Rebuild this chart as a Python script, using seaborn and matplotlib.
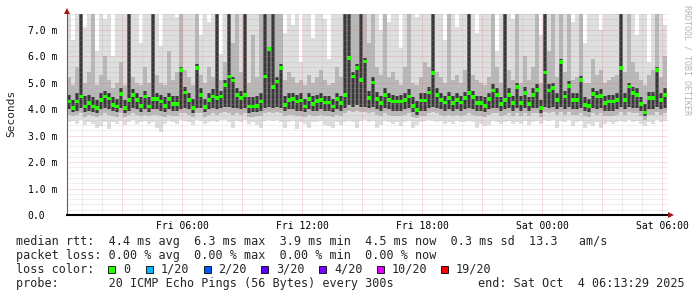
import numpy as np
import pandas as pd
import matplotlib
matplotlib.use("Agg")
import matplotlib.pyplot as plt
import matplotlib.dates as mdates
from matplotlib.ticker import MultipleLocator, FuncFormatter
from matplotlib.patches import Polygon, Rectangle
import seaborn as sns

# ---------------- data ----------------
START = "2025-10-03 00:15"   # left edge of the plot (Fri 00:15)
STEP_MIN = 12                # one column = 12 minutes
N_COLS = 150

# median RTT (ms) per column
median = [
    4.29, 4.05, 4.29, 4.48, 4.10, 4.23, 4.10, 4.04, 4.36, 4.48,
    4.40, 4.17, 4.10, 4.57, 4.04, 4.36, 4.55, 4.36, 4.13, 4.48,
    4.10, 4.38, 4.38, 4.29, 4.13, 4.38, 4.20, 4.20, 5.49, 4.63,
    4.36, 4.04, 5.56, 4.55, 4.08, 4.36, 4.48, 4.42, 4.48, 4.92,
    5.24, 5.09, 4.55, 4.42, 4.55, 4.10, 4.10, 4.13, 4.29, 5.24,
    6.28, 4.84, 5.05, 5.57, 4.17, 4.36, 4.38, 4.29, 4.33, 4.10,
    4.38, 4.20, 4.32, 4.36, 4.25, 4.25, 4.10, 4.38, 4.23, 4.55,
    5.93, 5.24, 5.56, 5.11, 5.81, 4.42, 5.01, 4.38, 4.23, 4.55,
    4.36, 4.29, 4.29, 4.29, 4.36, 4.48, 4.13, 3.98, 4.33, 4.33,
    4.63, 5.37, 4.55, 4.36, 4.25, 4.42, 4.23, 4.36, 4.25, 4.42,
    4.61, 4.46, 4.23, 4.23, 4.13, 4.38, 4.71, 4.55, 4.20, 4.36,
    4.55, 4.23, 4.84, 4.23, 4.61, 4.20, 4.55, 4.73, 4.04, 5.39,
    4.71, 4.80, 4.36, 5.78, 4.48, 4.89, 4.36, 4.36, 5.11, 4.17,
    4.13, 4.58, 4.48, 4.51, 4.23, 4.29, 4.29, 4.36, 5.56, 4.36,
    4.86, 4.61, 4.55, 4.20, 3.88, 4.42, 4.42, 5.47, 4.36, 4.55,
]

# highest ping (light smoke top, values above 7.6 run off the chart)
smoke_hi = [
    8.0, 6.6, 8.0, 8.0, 7.1, 8.0, 8.0, 6.2, 8.0, 7.4,
    8.0, 6.0, 8.0, 8.0, 8.0, 7.0, 8.0, 8.0, 6.5, 8.0,
    8.0, 7.2, 8.0, 6.4, 8.0, 8.0, 8.0, 7.5, 8.0, 8.0,
    8.0, 8.0, 8.0, 6.8, 8.0, 7.3, 8.0, 8.0, 6.1, 8.0,
    8.0, 8.0, 8.0, 8.0, 7.0, 8.0, 8.0, 8.0, 8.0, 8.0,
    8.0, 8.0, 8.0, 8.0, 6.9, 8.0, 7.2, 8.0, 5.8, 8.0,
    8.0, 6.7, 8.0, 8.0, 7.4, 5.9, 8.0, 8.0, 8.0, 8.0,
    8.0, 8.0, 8.0, 8.0, 8.0, 8.0, 8.0, 8.0, 7.0, 8.0,
    7.3, 8.0, 8.0, 6.3, 8.0, 8.0, 8.0, 7.5, 8.0, 8.0,
    8.0, 8.0, 8.0, 8.0, 6.6, 8.0, 8.0, 7.1, 8.0, 8.0,
    8.0, 8.0, 6.9, 8.0, 8.0, 8.0, 8.0, 6.2, 8.0, 8.0,
    8.0, 7.4, 8.0, 8.0, 8.0, 8.0, 8.0, 8.0, 6.8, 8.0,
    8.0, 8.0, 8.0, 8.0, 8.0, 8.0, 7.3, 8.0, 8.0, 6.5,
    8.0, 8.0, 8.0, 7.0, 8.0, 8.0, 8.0, 8.0, 8.0, 8.0,
    8.0, 8.0, 6.8, 8.0, 8.0, 5.8, 8.0, 8.0, 8.0, 7.2,
]

# upper edge of the medium smoke
smoke_mid_hi = [
    5.2, 4.9, 5.6, 8.0, 5.0, 5.4, 8.0, 4.9, 5.3, 6.0,
    5.1, 4.8, 5.0, 5.8, 4.9, 8.0, 5.2, 5.0, 4.9, 5.6,
    5.0, 8.0, 5.3, 5.0, 4.9, 6.2, 5.1, 5.4, 8.0, 5.5,
    5.2, 4.9, 8.0, 5.3, 5.0, 5.6, 5.2, 6.4, 5.1, 5.8,
    8.0, 6.5, 8.0, 5.4, 8.0, 5.0, 6.8, 5.2, 8.0, 8.0,
    8.0, 6.0, 8.0, 8.0, 5.1, 5.4, 5.2, 5.0, 5.1, 4.9,
    5.3, 5.0, 5.2, 5.5, 5.1, 4.9, 5.0, 5.6, 5.2, 8.0,
    8.0, 8.0, 8.0, 8.0, 8.0, 6.5, 8.0, 5.6, 5.3, 8.0,
    5.2, 5.4, 5.1, 4.9, 5.6, 8.0, 5.0, 4.9, 5.2, 5.8,
    5.6, 8.0, 5.4, 5.2, 5.0, 8.0, 5.1, 5.3, 5.0, 5.5,
    8.0, 5.3, 5.1, 5.0, 4.9, 5.2, 8.0, 5.6, 5.0, 8.0,
    5.5, 5.1, 8.0, 5.0, 6.0, 5.1, 5.6, 8.0, 5.0, 8.0,
    6.2, 8.0, 5.2, 8.0, 5.4, 8.0, 5.1, 5.2, 8.0, 5.0,
    5.0, 5.9, 5.3, 5.5, 5.0, 5.1, 5.2, 5.3, 8.0, 5.4,
    8.0, 5.8, 5.4, 5.1, 4.9, 5.3, 5.5, 8.0, 5.2, 6.0,
]

# upper edge of the dark core
smoke_core_hi = [
    4.55, 4.35, 4.60, 8.00, 4.50, 4.55, 4.45, 4.35, 4.60, 4.70,
    4.60, 4.45, 4.40, 4.80, 4.35, 8.00, 4.75, 4.60, 4.45, 4.70,
    4.45, 8.00, 4.60, 4.55, 4.45, 4.60, 4.50, 4.50, 5.60, 4.85,
    4.60, 4.40, 5.70, 4.80, 4.40, 4.60, 4.75, 8.00, 4.70, 5.10,
    8.00, 5.20, 4.80, 4.70, 8.00, 4.45, 4.45, 4.50, 4.60, 8.00,
    6.35, 8.00, 5.20, 5.70, 4.50, 4.60, 4.60, 4.55, 4.60, 4.40,
    4.60, 4.50, 4.55, 4.60, 4.50, 4.50, 4.40, 4.60, 4.50, 8.00,
    8.00, 5.40, 5.70, 8.00, 5.95, 4.70, 5.20, 4.65, 4.50, 4.80,
    4.60, 4.55, 4.50, 4.55, 4.60, 4.75, 4.45, 4.30, 4.60, 4.60,
    4.85, 8.00, 4.80, 4.60, 4.50, 4.65, 4.50, 4.60, 4.50, 4.65,
    8.00, 4.70, 4.50, 4.50, 4.45, 4.60, 4.95, 4.80, 4.45, 8.00,
    4.80, 4.50, 5.00, 4.50, 4.85, 4.45, 4.80, 4.95, 4.35, 8.00,
    4.95, 5.00, 4.60, 5.90, 4.70, 5.05, 4.60, 4.60, 5.25, 4.45,
    4.40, 4.80, 4.70, 4.75, 4.50, 4.55, 4.55, 4.60, 8.00, 4.60,
    5.00, 4.85, 4.80, 4.45, 4.20, 4.65, 4.65, 5.60, 4.60, 4.80,
]

# lower edge of the dark core
smoke_core_lo = [
    4.00, 3.90, 3.95, 4.05, 3.90, 3.95, 3.90, 3.85, 4.00, 4.05,
    4.00, 3.95, 3.90, 4.05, 3.85, 3.95, 4.05, 4.00, 3.90, 4.00,
    3.90, 4.00, 4.00, 3.95, 3.90, 4.00, 3.95, 3.95, 4.00, 4.05,
    4.00, 3.85, 4.05, 4.05, 3.90, 4.00, 4.05, 4.00, 4.05, 4.10,
    4.10, 4.05, 4.05, 4.00, 4.05, 3.85, 3.90, 3.90, 3.95, 4.05,
    4.10, 4.05, 4.10, 4.05, 3.95, 4.00, 4.00, 3.95, 3.95, 3.90,
    4.00, 3.95, 3.95, 4.00, 3.95, 3.95, 3.90, 4.00, 3.95, 4.05,
    4.15, 4.10, 4.15, 4.10, 4.10, 4.05, 4.10, 4.00, 3.95, 4.05,
    4.00, 3.95, 3.95, 3.95, 4.00, 4.05, 3.90, 3.80, 3.95, 3.95,
    4.05, 4.10, 4.05, 4.00, 3.95, 4.00, 3.95, 4.00, 3.95, 4.00,
    4.05, 4.00, 3.95, 3.95, 3.90, 4.00, 4.05, 4.05, 3.95, 4.00,
    4.05, 3.95, 4.05, 3.95, 4.05, 3.95, 4.05, 4.05, 3.85, 4.10,
    4.05, 4.10, 4.00, 4.10, 4.00, 4.10, 4.00, 4.00, 4.05, 3.95,
    3.90, 4.05, 4.00, 4.05, 3.95, 3.95, 3.95, 4.00, 4.10, 4.00,
    4.10, 4.05, 4.05, 3.95, 3.75, 4.00, 4.00, 4.10, 4.00, 4.05,
]

# lower edge of the medium smoke
smoke_mid_lo = [
    3.80, 3.75, 3.80, 3.85, 3.70, 3.80, 3.75, 3.70, 3.80, 3.85,
    3.80, 3.75, 3.70, 3.85, 3.70, 3.80, 3.85, 3.80, 3.75, 3.80,
    3.75, 3.80, 3.80, 3.75, 3.70, 3.80, 3.75, 3.75, 3.85, 3.85,
    3.80, 3.70, 3.85, 3.85, 3.70, 3.80, 3.85, 3.80, 3.85, 3.90,
    3.85, 3.80, 3.85, 3.80, 3.85, 3.70, 3.70, 3.75, 3.75, 3.85,
    3.90, 3.85, 3.90, 3.85, 3.75, 3.80, 3.80, 3.75, 3.75, 3.70,
    3.80, 3.75, 3.75, 3.80, 3.75, 3.75, 3.70, 3.80, 3.75, 3.85,
    3.95, 3.90, 3.95, 3.90, 3.90, 3.85, 3.90, 3.80, 3.75, 3.85,
    3.80, 3.75, 3.75, 3.75, 3.80, 3.85, 3.70, 3.65, 3.75, 3.75,
    3.85, 3.90, 3.85, 3.80, 3.75, 3.80, 3.75, 3.80, 3.75, 3.80,
    3.85, 3.80, 3.75, 3.75, 3.70, 3.80, 3.85, 3.85, 3.75, 3.80,
    3.85, 3.75, 3.85, 3.75, 3.85, 3.75, 3.85, 3.85, 3.70, 3.90,
    3.85, 3.90, 3.80, 3.90, 3.80, 3.90, 3.80, 3.80, 3.85, 3.75,
    3.70, 3.85, 3.80, 3.85, 3.75, 3.75, 3.75, 3.80, 3.90, 3.80,
    3.90, 3.85, 3.85, 3.75, 3.60, 3.80, 3.80, 3.90, 3.80, 3.85,
]

# lowest ping (light smoke bottom)
smoke_lo = [
    3.50, 3.55, 3.45, 3.60, 3.40, 3.50, 3.45, 3.30, 3.35, 3.50,
    3.25, 3.50, 3.45, 3.55, 3.40, 3.50, 3.60, 3.45, 3.50, 3.55,
    3.45, 3.50, 3.30, 3.15, 3.45, 3.55, 3.50, 3.45, 3.60, 3.55,
    3.50, 3.40, 3.60, 3.55, 3.45, 3.50, 3.55, 3.50, 3.60, 3.60,
    3.50, 3.30, 3.55, 3.50, 3.60, 3.45, 3.50, 3.40, 3.30, 3.55,
    3.60, 3.55, 3.60, 3.50, 3.30, 3.50, 3.55, 3.25, 3.50, 3.45,
    3.30, 3.50, 3.50, 3.55, 3.40, 3.35, 3.30, 3.50, 3.40, 3.50,
    3.55, 3.50, 3.30, 3.55, 3.60, 3.50, 3.55, 3.30, 3.40, 3.55,
    3.50, 3.45, 3.50, 3.35, 3.50, 3.55, 3.30, 3.40, 3.50, 3.55,
    3.60, 3.55, 3.50, 3.55, 3.45, 3.50, 3.45, 3.55, 3.50, 3.50,
    3.55, 3.50, 3.30, 3.45, 3.35, 3.40, 3.55, 3.50, 3.45, 3.50,
    3.55, 3.45, 3.50, 3.45, 3.55, 3.40, 3.50, 3.55, 3.45, 3.60,
    3.55, 3.60, 3.30, 3.55, 3.50, 3.60, 3.35, 3.50, 3.55, 3.30,
    3.45, 3.35, 3.50, 3.30, 3.45, 3.50, 3.45, 3.50, 3.55, 3.50,
    3.60, 3.50, 3.55, 3.45, 3.35, 3.50, 3.45, 3.60, 3.50, 3.55,
]

YTICKS = [0, 1, 2, 3, 4, 5, 6, 7]
YTICK_LABELS = ["0.0", "1.0 m", "2.0 m", "3.0 m", "4.0 m", "5.0 m", "6.0 m", "7.0 m"]
XTICK_TIMES = ["2025-10-03 06:00", "2025-10-03 12:00", "2025-10-03 18:00",
               "2025-10-04 00:00", "2025-10-04 06:00"]
XTICK_LABELS = ["Fri 06:00", "Fri 12:00", "Fri 18:00", "Sat 00:00", "Sat 06:00"]
X_END = "2025-10-04 06:18"

LEGEND_LINES = [
    "median rtt:  4.4 ms avg  6.3 ms max  3.9 ms min  4.5 ms now  0.3 ms sd  13.3   am/s",
    "packet loss: 0.00 % avg  0.00 % max  0.00 % min  0.00 % now",
    "loss color:",
    "probe:       20 ICMP Echo Pings (56 Bytes) every 300s",
]
LOSS_LABELS = ["0", "1/20", "2/20", "3/20", "4/20", "10/20", "19/20"]
LOSS_COLORS = ["#26ff00", "#00b8ff", "#0059ff", "#5e00ff", "#7e00ff", "#dd00ff", "#ff0000"]
END_TEXT = "end: Sat Oct  4 06:13:29 2025"
WATERMARK = "RRDTOOL / TOBI OETIKER"

# ---------------- drawing ----------------
sns.set_style("white")
plt.rcParams["font.family"] = ["DejaVu Sans Mono", "DejaVu Sans"]

W, H = 697, 297
fig = plt.figure(figsize=(W / 100, H / 100), dpi=100)
fig.patch.set_facecolor("white")


def fx(px):
    return px / W


def fy(py):
    return 1 - py / H


ax = fig.add_axes([fx(67), fy(215), 601 / W, 201 / H])
ax.set_facecolor("white")

t0 = pd.Timestamp(START)
times = pd.date_range(t0 + pd.Timedelta(minutes=STEP_MIN / 2), periods=N_COLS,
                      freq=f"{STEP_MIN}min")
xnum = mdates.date2num(times.to_pydatetime())
col_w = STEP_MIN / 1440.0

df = pd.DataFrame({
    "x": xnum, "median": median, "hi": smoke_hi, "mid_hi": smoke_mid_hi,
    "core_hi": smoke_core_hi, "core_lo": smoke_core_lo,
    "mid_lo": smoke_mid_lo, "lo": smoke_lo,
})


def smoke(lo_col, hi_col, color, frac=1.0, z=1):
    ax.bar(df["x"], df[hi_col] - df[lo_col], bottom=df[lo_col], width=col_w * frac,
           color=color, linewidth=0, align="center", zorder=z)


smoke("lo", "hi", "#dedede")
smoke("mid_lo", "mid_hi", "#b8b8b8")
smoke("core_lo", "core_hi", "#6c6c6c")
smoke("core_lo", "core_hi", "#383838", frac=0.45, z=1.1)

sns.scatterplot(data=df, x="x", y="median", marker="s", s=7, color="#26ff00",
                linewidth=0, edgecolor="none", ax=ax, legend=False, zorder=4)
ax.set_xlabel("")
ax.set_ylabel("")

ax.set_xlim(mdates.date2num(t0.to_pydatetime()),
            mdates.date2num(pd.Timestamp(X_END).to_pydatetime()))
ax.set_ylim(0, 7.6)

# grid
ax.xaxis.set_major_locator(mdates.HourLocator(byhour=range(0, 24, 3)))
ax.xaxis.set_minor_locator(mdates.HourLocator())
label_map = {pd.Timestamp(t).strftime("%Y-%m-%d %H:%M"): l
             for t, l in zip(XTICK_TIMES, XTICK_LABELS)}


def xfmt(v, pos):
    d = mdates.num2date(v).replace(tzinfo=None)
    return label_map.get(pd.Timestamp(d).round("min").strftime("%Y-%m-%d %H:%M"), "")


ax.xaxis.set_major_formatter(FuncFormatter(xfmt))
ax.set_yticks(YTICKS, YTICK_LABELS, ha="left")
ax.yaxis.set_minor_locator(MultipleLocator(0.2))

ax.set_axisbelow(False)
ax.grid(which="major", color="#e07070", alpha=0.45, linestyle=(0, (1, 1)), linewidth=0.72)
ax.grid(which="minor", color="#a0a0a0", alpha=0.35, linestyle=(0, (1, 1)), linewidth=0.72)

ax.tick_params(axis="both", which="major", length=3, width=0.72, color="#d09090",
               labelsize=7, labelcolor="black")
ax.tick_params(axis="both", which="minor", length=0)
ax.tick_params(axis="y", pad=25.2)
ax.tick_params(axis="x", pad=1.5)

for s in ["top", "right"]:
    ax.spines[s].set_visible(False)
ax.spines["bottom"].set_color("black")
ax.spines["bottom"].set_linewidth(1.5)
ax.spines["bottom"].set_zorder(5)
ax.spines["left"].set_color("#606060")
ax.spines["left"].set_linewidth(0.8)
ax.spines["left"].set_zorder(5)

# axis arrows
arrow_col = "#a01818"
fig.add_artist(Polygon([(fx(64), fy(14)), (fx(70), fy(14)), (fx(67), fy(8))],
                       closed=True, transform=fig.transFigure, color=arrow_col, lw=0))
fig.add_artist(Polygon([(fx(668), fy(212)), (fx(668), fy(218)), (fx(674), fy(215))],
                       closed=True, transform=fig.transFigure, color=arrow_col, lw=0))

# y label and watermark
fig.text(fx(11), fy(113), "Seconds", rotation=90, ha="center", va="center", fontsize=8)
fig.text(fx(687), fy(5), WATERMARK, rotation=-90, ha="center", va="top",
         fontsize=6, color="#b4b4b4")

# legend block
baselines = [245, 259, 273, 287]
for line, b in zip(LEGEND_LINES, baselines):
    fig.text(fx(16), fy(b), line, fontsize=8.5, va="baseline", ha="left")
fig.text(fx(478), fy(287), END_TEXT, fontsize=8.5, va="baseline", ha="left")

square_x = [108, 146, 203.5, 261, 319, 377, 441]
for sx, lab, col in zip(square_x, LOSS_LABELS, LOSS_COLORS):
    fig.add_artist(Rectangle((fx(sx), fy(273)), 7 / W, 7 / H, transform=fig.transFigure,
                             facecolor=col, edgecolor="black", linewidth=0.6))
    fig.text(fx(sx + 15), fy(273), lab, fontsize=8.5, va="baseline", ha="left")

fig.savefig("out.png", dpi=100, facecolor="white")
